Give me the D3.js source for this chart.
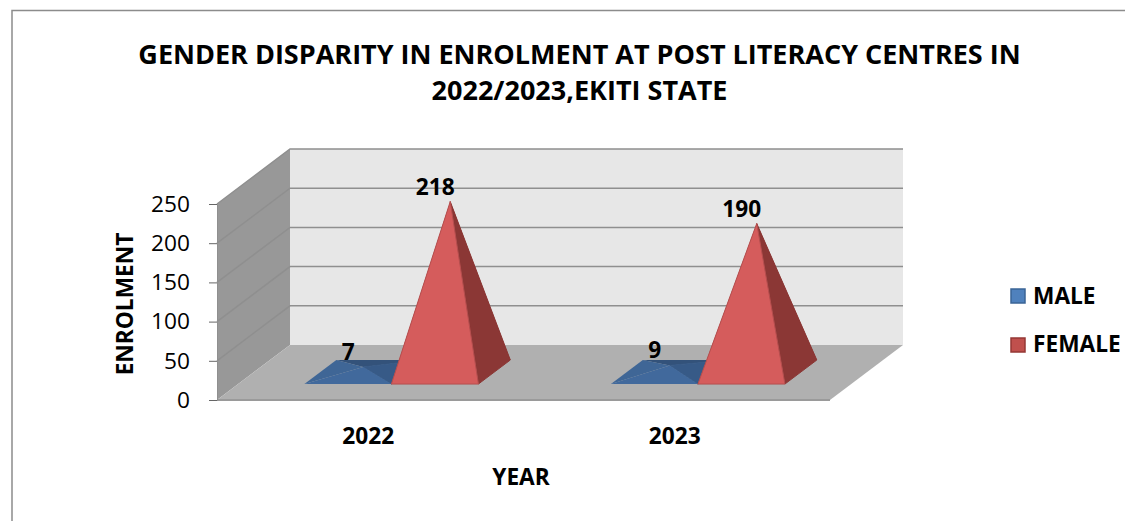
<!DOCTYPE html>
<html>
<head>
<meta charset="utf-8">
<script src="https://d3js.org/d3.v7.min.js"></script>
<style>
html, body { margin: 0; padding: 0; background: #fff; }
svg { display: block; }
text { font-family: "Open Sans", sans-serif; fill: #000; }
</style>
</head>
<body>
<svg id="chart" width="1125" height="521"></svg>
<script>
var years = ["2022", "2023"];
var seriesNames = ["MALE", "FEMALE"];
var maleValues = [7, 9];
var femaleValues = [218, 190];
var yTicks = [0, 50, 100, 150, 200, 250];
var titleLines = ["GENDER DISPARITY IN ENROLMENT AT POST LITERACY CENTRES IN", "2022/2023,EKITI STATE"];

var svg = d3.select("#chart");
var labelSize = 22.7;

// front edge of the 3d box, the back wall is shifted by depth
var depthX = 73, depthY = -55;
var x0 = 217, x1 = 830;
var y = d3.scaleLinear().domain([0, 250]).range([400, 204]);

// how far into the box the pyramid bases start and end
var baseFront = 0.29, baseBack = 0.727;
var yearX = d3.scaleBand().domain(years).range([x0, x1]).paddingInner(0).paddingOuter(0);
var serieX = d3.scaleBand().domain(seriesNames).range([0, yearX.bandwidth()]).paddingInner(0).paddingOuter(0.7615);

function depth(p, f) { return [p[0] + depthX * f, p[1] + depthY * f]; }

function poly(points, fill, stroke) {
    svg.append("polygon")
        .attr("points", points.map(function(p) { return p.join(","); }).join(" "))
        .attr("fill", fill)
        .attr("stroke", stroke || "none")
        .attr("stroke-width", stroke ? 1 : 0);
}

// frame
svg.append("path").attr("d", "M12,521V10.5H1125").attr("fill", "none").attr("stroke", "#8c8c8c").attr("stroke-width", 1.5);

// walls and floor
poly([[x0, y(0)], depth([x0, y(0)], 1), depth([x0, y(250)], 1), [x0, y(250)]], "#989898");
poly([depth([x0, y(0)], 1), depth([x1, y(0)], 1), depth([x1, y(250)], 1), depth([x0, y(250)], 1)], "#e7e7e7");
poly([[x0, y(0)], [x1, y(0)], depth([x1, y(0)], 1), depth([x0, y(0)], 1)], "#b0b0b0");

// gridlines over side and back wall
yTicks.forEach(function(t) {
    var a = [x0, y(t)], b = depth(a, 1), c = depth([x1, y(t)], 1);
    if (t > 0) {
        svg.append("polyline")
            .attr("points", [a, b, c].map(function(p) { return p.join(","); }).join(" "))
            .attr("fill", "none").attr("stroke", "#8f8f8f").attr("stroke-width", 1.5);
    }
});
svg.append("line").attr("x1", x0).attr("x2", x1).attr("y1", y(0)).attr("y2", y(0)).attr("stroke", "#9a9a9a").attr("stroke-width", 2);

// y axis
var yAxis = svg.append("g")
    .attr("transform", "translate(" + x0 + ",0)")
    .call(d3.axisLeft(y).tickValues(yTicks).tickSize(8).tickPadding(19));
yAxis.select(".domain").attr("stroke", "#8f8f8f");
yAxis.selectAll("line").attr("stroke", "#666");
yAxis.selectAll("text").attr("font-size", labelSize).attr("font-family", "Open Sans");

// pyramids
var colors = {
    MALE: { front: "#41699c", left: "#3f6696", right: "#375a87", back: "#33527a" },
    FEMALE: { front: "#d55c5c", left: "#b04a4a", right: "#8b3735", back: "#8b3735" }
};
var values = { MALE: maleValues, FEMALE: femaleValues };

seriesNames.forEach(function(name) {
    years.forEach(function(year, i) {
        var v = values[name][i];
        var c = colors[name];
        var left = yearX(year) + serieX(name);
        var right = left + serieX.bandwidth();
        var fl = depth([left, y(0)], baseFront);
        var fr = depth([right, y(0)], baseFront);
        var bl = depth([left, y(0)], baseBack);
        var br = depth([right, y(0)], baseBack);
        var mid = depth([(left + right) / 2, y(v)], 0.5);
        poly([bl, br, mid], c.back);
        poly([fl, bl, mid], c.left);
        poly([fr, br, mid], c.right, c.right);
        poly([fl, fr, mid], c.front, name == "FEMALE" ? "#b54f4f" : null);
        svg.append("text")
            .attr("x", mid[0] - 15)
            .attr("y", mid[1] - 7)
            .attr("text-anchor", "middle")
            .attr("font-size", labelSize)
            .attr("font-weight", 700)
            .text(v);
    });
});

// year labels
years.forEach(function(year) {
    svg.append("text")
        .attr("x", yearX(year) + yearX.bandwidth() / 2 - 2)
        .attr("y", 444)
        .attr("text-anchor", "middle")
        .attr("font-size", labelSize)
        .attr("font-weight", 700)
        .text(year);
});

// title
titleLines.forEach(function(line, i) {
    svg.append("text")
        .attr("x", 579.5)
        .attr("y", 64 + i * 36)
        .attr("text-anchor", "middle")
        .attr("font-size", 27)
        .attr("font-weight", 700)
        .text(line);
});

// axis titles
svg.append("text").attr("x", 521).attr("y", 485).attr("text-anchor", "middle")
    .attr("font-size", labelSize).attr("font-weight", 700).text("YEAR");
svg.append("text").attr("transform", "translate(133,304) rotate(-90)").attr("text-anchor", "middle")
    .attr("font-size", labelSize).attr("font-weight", 700).text("ENROLMENT");

// legend
var legendFill = { MALE: "#4f81bd", FEMALE: "#c0504d" };
var legendStroke = { MALE: "#3a6496", FEMALE: "#953735" };
seriesNames.forEach(function(name, i) {
    svg.append("rect").attr("x", 1011).attr("y", 289 + i * 49).attr("width", 14).attr("height", 14)
        .attr("fill", legendFill[name]).attr("stroke", legendStroke[name]).attr("stroke-width", 1.5);
    svg.append("text").attr("x", 1033).attr("y", 304 + i * 48).attr("font-size", labelSize).attr("font-weight", 700).text(name);
});
</script>
</body>
</html>
